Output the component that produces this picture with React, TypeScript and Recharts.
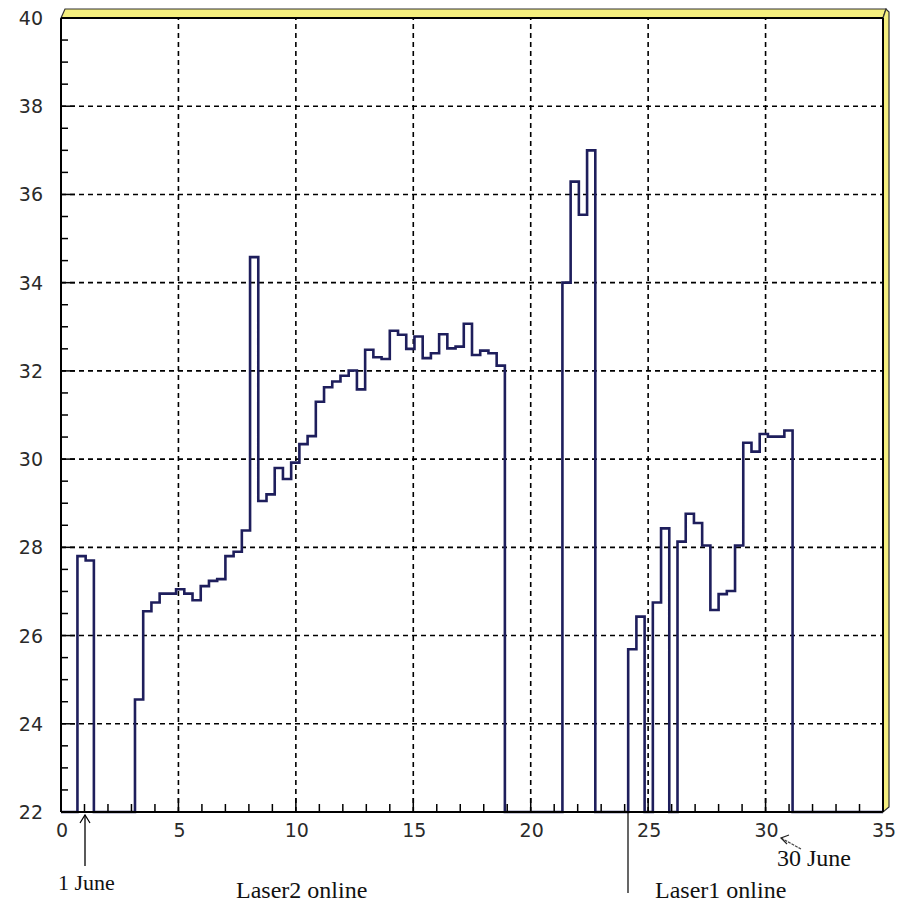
import React from 'react';
import { LineChart, Line, XAxis, YAxis, ReferenceLine } from 'recharts';

const BIN = 0.35;
const Y_MIN = 22;
const Y_MAX = 40;
const X_MAX = 35;

// one value per 0.35-wide bin, 0 = no data in that bin
const binValues = [
  0, 0, 27.8, 27.7, 0, 0, 0, 0, 0, 24.55,
  26.55, 26.75, 26.95, 26.95, 27.05, 26.95, 26.8, 27.12, 27.24, 27.28,
  27.8, 27.9, 28.38, 34.58, 29.05, 29.2, 29.8, 29.55, 29.92, 30.34,
  30.52, 31.3, 31.63, 31.76, 31.89, 32.01, 31.58, 32.48, 32.31, 32.27,
  32.91, 32.82, 32.5, 32.78, 32.29, 32.4, 32.83, 32.51, 32.55, 33.07,
  32.36, 32.46, 32.4, 32.12, 0, 0, 0, 0, 0, 0,
  0, 34.0, 36.29, 35.54, 37.0, 0, 0, 0, 0, 25.69,
  26.43, 0, 26.75, 28.43, 0, 28.13, 28.76, 28.55, 28.04, 26.58,
  26.94, 27.01, 28.04, 30.37, 30.17, 30.57, 30.51, 30.51, 30.65, 0,
  0, 0, 0, 0, 0, 0, 0, 0, 0, 0,
];

const xTicks = [
  0, 1, 2, 3, 4, 5, 6, 7, 8, 9, 10, 11, 12, 13, 14, 15, 16, 17,
  18, 19, 20, 21, 22, 23, 24, 25, 26, 27, 28, 29, 30, 31, 32, 33, 34, 35,
];
const yTicks = [
  22, 22.5, 23, 23.5, 24, 24.5, 25, 25.5, 26, 26.5, 27, 27.5, 28, 28.5,
  29, 29.5, 30, 30.5, 31, 31.5, 32, 32.5, 33, 33.5, 34, 34.5, 35, 35.5,
  36, 36.5, 37, 37.5, 38, 38.5, 39, 39.5, 40,
];
const xGrid = [5, 10, 15, 20, 25, 30];
const yGrid = [24, 26, 28, 30, 32, 34, 36, 38];

const data = [
  ...binValues.map((v, i) => ({ x: Math.round(i * BIN * 100) / 100, v: v || Y_MIN })),
  { x: X_MAX, v: Y_MIN },
];

const labelFont = { fontFamily: 'DejaVu Sans', fontSize: 19, fill: '#2a2a2a' };
const noteFont = { fontFamily: 'Liberation Serif', fontSize: 24, fill: '#111' };

const XTick = (props: any) => {
  const { x, y, payload } = props;
  const major = payload.value % 5 === 0;
  return (
    <g>
      <line x1={x} x2={x} y1={y} y2={y - (major ? 14 : 8)} stroke="#000" strokeWidth={1.5} />
      {major && (
        <text x={x + 1} y={y + 25} textAnchor="middle" {...labelFont}>
          {payload.value}
        </text>
      )}
    </g>
  );
};

const YTick = (props: any) => {
  const { x, y, payload } = props;
  const major = payload.value % 2 === 0;
  return (
    <g>
      <line x1={x} x2={x + (major ? 14 : 7)} y1={y} y2={y} stroke="#000" strokeWidth={1.5} />
      {major && (
        <text x={x - 18} y={y + 7} textAnchor="end" {...labelFont}>
          {payload.value}
        </text>
      )}
    </g>
  );
};

const FrameAndNotes = () => (
  <svg
    width={900}
    height={916}
    style={{ position: 'absolute', left: 0, top: 0, pointerEvents: 'none' }}
  >
    <polygon points="61,18 65,9 886,9 883,18" fill="#f5ef7e" stroke="#333" strokeWidth={1.2} />
    <polygon points="883,18 886,9 889,12 889,807 883,812" fill="#f5ef7e" stroke="#333" strokeWidth={1.2} />
    <line x1={61} x2={883} y1={18} y2={18} stroke="#000" strokeWidth={2} />
    <line x1={883} x2={883} y1={18} y2={812} stroke="#000" strokeWidth={2} />

    {/* 1 June */}
    <line x1={85} x2={85} y1={866} y2={815} stroke="#000" strokeWidth={1.3} />
    <polyline points="80,823 85,815 90,823" fill="none" stroke="#000" strokeWidth={1.2} />
    <text x={58} y={890} {...noteFont} fontSize={22}>1 June</text>

    {/* 30 June */}
    <line x1={781} x2={801} y1={838} y2={849} stroke="#444" strokeWidth={1.2} strokeDasharray="3 1" />
    <polyline points="789,835 781,838 787,844" fill="none" stroke="#222" strokeWidth={1.2} />
    <text x={777} y={866} {...noteFont}>30 June</text>

    {/* lasers */}
    <line x1={628} x2={628} y1={812} y2={893} stroke="#000" strokeWidth={1.2} />
    <text x={236} y={898} {...noteFont}>Laser2 online</text>
    <text x={655} y={898} {...noteFont}>Laser1 online</text>
  </svg>
);

export default function App() {
  return (
    <div style={{ position: 'absolute', left: 0, top: 0, width: 900, height: 916, background: '#fff' }}>
      <LineChart
        width={900}
        height={916}
        data={data}
        margin={{ top: 18, right: 17, bottom: 74, left: 0 }}
      >
        {xGrid.map((g) => (
          <ReferenceLine key={`xg${g}`} x={g} stroke="#000" strokeWidth={1.6} strokeDasharray="5 4" />
        ))}
        {yGrid.map((g) => (
          <ReferenceLine key={`yg${g}`} y={g} stroke="#000" strokeWidth={1.6} strokeDasharray="5 4" />
        ))}
        <XAxis
          type="number"
          dataKey="x"
          domain={[0, X_MAX]}
          ticks={xTicks}
          interval={0}
          height={30}
          tickSize={0}
          tickMargin={0}
          tickLine={false}
          axisLine={{ stroke: '#000', strokeWidth: 2 }}
          tick={<XTick />}
        />
        <YAxis
          type="number"
          domain={[Y_MIN, Y_MAX]}
          ticks={yTicks}
          interval={0}
          width={61}
          tickSize={0}
          tickMargin={0}
          tickLine={false}
          axisLine={{ stroke: '#000', strokeWidth: 2 }}
          tick={<YTick />}
        />
        <Line
          type="stepAfter"
          dataKey="v"
          stroke="#1e1e5c"
          strokeWidth={2.6}
          strokeLinejoin="miter"
          dot={false}
          isAnimationActive={false}
        />
      </LineChart>
      <FrameAndNotes />
    </div>
  );
}
